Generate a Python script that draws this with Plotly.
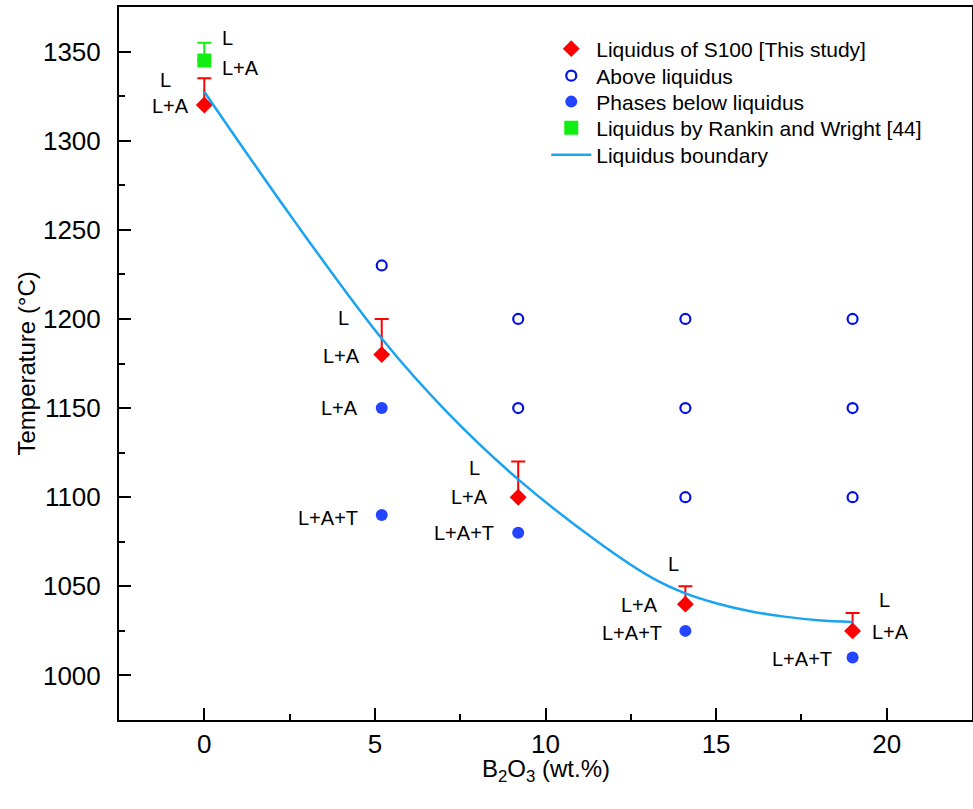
import plotly.graph_objects as go

# ---- data ----
liq_x = [0, 5.2, 9.2, 14.1, 19]
liq_y = [1320, 1180, 1100, 1040, 1025]
liq_err = [15, 20, 20, 10, 10]

above_x = [5.2, 9.2, 9.2, 14.1, 14.1, 14.1, 19, 19, 19]
above_y = [1230, 1200, 1150, 1200, 1150, 1100, 1200, 1150, 1100]

below_x = [5.2, 5.2, 9.2, 14.1, 19]
below_y = [1150, 1090, 1080, 1025, 1010]

rw_x = [0]
rw_y = [1345]
rw_err = [10]

curve_x = [0, 2.6, 5.2, 7.1, 9.2, 11.6, 13.1, 14.1, 15.0, 16.0, 17.0, 18.0, 19]
curve_y = [1327.5, 1256, 1189, 1148, 1110, 1074, 1055, 1046, 1040.5, 1036, 1033, 1031, 1030]

# phase labels: (x, y, text)
phase_labels = [
    (0, 1320, "L"), (0, 1320, "L+A"),
    (0, 1345, "L"), (0, 1345, "L+A"),
    (5.2, 1180, "L"), (5.2, 1180, "L+A"),
    (5.2, 1150, "L+A"), (5.2, 1090, "L+A+T"),
    (9.2, 1100, "L"), (9.2, 1100, "L+A"), (9.2, 1080, "L+A+T"),
    (14.1, 1040, "L"), (14.1, 1040, "L+A"), (14.1, 1025, "L+A+T"),
    (19, 1025, "L"), (19, 1025, "L+A"), (19, 1010, "L+A+T"),
]
# label placement (anchor, x shift px, y shift px), same order
label_place = [
    ("right", -31, 25), ("right", -13, -1),
    ("left", 16, 22), ("left", 16, -8),
    ("right", -31, 37), ("right", -20, -1),
    ("right", -22, 0), ("right", -22, -3),
    ("right", -36, 29), ("right", -28, 0), ("right", -22, 0),
    ("right", -4, 40), ("right", -25, -1), ("right", -21, -2),
    ("left", 24, 31), ("left", 17, -1), ("right", -19, -1),
]

FONT = "Arial, Liberation Sans, sans-serif"

fig = go.Figure()
fig.add_trace(go.Scatter(
    x=liq_x, y=liq_y, mode="markers", name="Liquidus of S100 [This study]", legend="legend",
    marker=dict(symbol="diamond", size=13, color="#ff0000"),
    error_y=dict(type="data", array=liq_err, arrayminus=[0] * len(liq_err),
                 symmetric=False, color="#ff0000", thickness=2, width=7),
))
fig.add_trace(go.Scatter(
    x=above_x, y=above_y, mode="markers", name="Above liquidus", legend="legend2",
    marker=dict(symbol="circle-open", size=10, color="#0010e6", line=dict(width=2.2, color="#0010e6")),
))
fig.add_trace(go.Scatter(
    x=below_x, y=below_y, mode="markers", name="Phases below liquidus", legend="legend3",
    marker=dict(symbol="circle", size=12, color="#2444ff"),
))
fig.add_trace(go.Scatter(
    x=rw_x, y=rw_y, mode="markers", name="Liquidus by Rankin and Wright [44]", legend="legend4",
    marker=dict(symbol="square", size=14, color="#11ee11"),
    error_y=dict(type="data", array=rw_err, arrayminus=[0], symmetric=False,
                 color="#11ee11", thickness=2, width=7),
))
fig.add_trace(go.Scatter(
    x=curve_x, y=curve_y, mode="lines", name="Liquidus boundary", legend="legend5",
    line=dict(color="#1aa3ee", width=2.5, shape="spline", smoothing=1.0),
))

annotations = []
for (lx, ly, txt), (anc, dx, dy) in zip(phase_labels, label_place):
    annotations.append(dict(
        x=lx, y=ly, xref="x", yref="y", text=txt, showarrow=False,
        xanchor=anc, yanchor="middle", xshift=dx, yshift=dy,
        font=dict(family=FONT, size=20, color="black"),
    ))
# axis titles
annotations.append(dict(
    x=0.5, y=-0.0715, xref="paper", yref="paper", showarrow=False,
    text="B<sub>2</sub>O<sub>3</sub> (wt.%)", xanchor="center", yanchor="middle",
    font=dict(family=FONT, size=24, color="black"),
))
annotations.append(dict(
    x=-0.109, y=0.5, xref="paper", yref="paper", showarrow=False, textangle=-90,
    text="Temperature (°C)", xanchor="center", yanchor="middle",
    font=dict(family=FONT, size=24, color="black"),
))

axis_common = dict(
    showgrid=False, zeroline=False, showline=True, linecolor="black", linewidth=2,
    mirror=True, ticks="inside", ticklen=12, tickwidth=2, tickcolor="black",
    tickfont=dict(family=FONT, size=26, color="black"), automargin=False,
)

legend_common = dict(xanchor="left", yanchor="middle", bgcolor="rgba(0,0,0,0)",
                     font=dict(family=FONT, size=21, color="black"), itemwidth=40)
lx0 = 0.5009
leg_rows = [0.9411, 0.9032, 0.8668, 0.8303, 0.7924]

fig.update_layout(
    width=973, height=809,
    margin=dict(l=119, r=1, t=7, b=89),
    paper_bgcolor="white", plot_bgcolor="white",
    font=dict(family=FONT, color="black"),
    showlegend=True,
    legend=dict(x=lx0, y=leg_rows[0], **legend_common),
    legend2=dict(x=lx0, y=leg_rows[1], **legend_common),
    legend3=dict(x=lx0, y=leg_rows[2], **legend_common),
    legend4=dict(x=lx0, y=leg_rows[3], **legend_common),
    legend5=dict(x=lx0, y=leg_rows[4], **legend_common),
    annotations=annotations,
    xaxis=dict(range=[-2.5, 22.5], tick0=0, dtick=5, ticklabelstandoff=0,
               minor=dict(ticks="inside", ticklen=6, tickwidth=2, tickcolor="black", dtick=2.5, tick0=0),
               **axis_common),
    yaxis=dict(range=[975, 1375], tick0=1000, dtick=50, ticklabelstandoff=11,
               minor=dict(ticks="inside", ticklen=6, tickwidth=2, tickcolor="black", dtick=25, tick0=1000),
               **axis_common),
)

fig.write_html("out.html", config={"displayModeBar": False},
               post_script="document.body.style.margin='0';document.body.style.overflow='hidden';")
